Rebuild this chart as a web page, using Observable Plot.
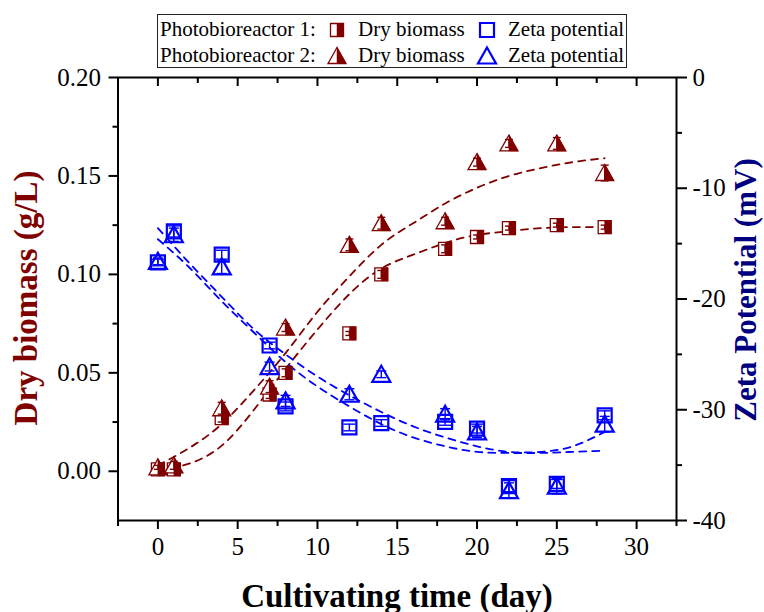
<!DOCTYPE html>
<html>
<head>
<meta charset="utf-8">
<script src="https://cdn.jsdelivr.net/npm/d3@7"></script>
<script src="https://cdn.jsdelivr.net/npm/@observablehq/plot@0.6"></script>
<style>
html, body { margin: 0; padding: 0; background: #fff; }
#wrap { position: relative; width: 764px; height: 612px; overflow: hidden; font-family: "Liberation Serif", "Times New Roman", serif; }
#chart { position: absolute; left: 0; top: 0; }
#chart svg text { font-family: "Liberation Serif", "Times New Roman", serif !important; }
.lbl { position: absolute; white-space: nowrap; line-height: 1; }
.title { font-weight: bold; transform: translate(-50%, -50%); }
.rot { transform: translate(-50%, -50%) rotate(-90deg); }
#legend { position: absolute; left: 157px; top: 14px; width: 468px; height: 52px; border: 1px solid #222; }
.leg { font-size: 21px; color: #000; }
.icon { position: absolute; overflow: visible; }
</style>
</head>
<body>
<div id="wrap">
  <div id="chart"></div>
  <div id="legend"></div>
</div>
<script>
// ---------- data ----------
const days = [0, 1, 4, 7, 8, 12, 14, 18, 20, 22, 25, 28];
const biomassPBR1 = [0.001, 0.001, 0.027, 0.039, 0.050, 0.070, 0.100, 0.113, 0.119, 0.1235, 0.125, 0.124];
const biomassPBR2 = [0.002, 0.003, 0.032, 0.043, 0.073, 0.115, 0.126, 0.127, 0.157, 0.1665, 0.1665, 0.1515];
const biomassErrPBR1 = [0.001, 0.001, 0.002, 0.002, 0.002, 0.001, 0.002, 0.002, 0.001, 0.001, 0.001, 0.001];
const biomassErrPBR2 = [0.001, 0.002, 0.003, 0.003, 0.002, 0.003, 0.003, 0.002, 0.002, 0.002, 0.003, 0.004];
const zetaPBR1 = [-16.7, -13.9, -16.0, -24.2, -29.7, -31.6, -31.2, -31.1, -31.7, -36.9, -36.7, -30.5];
const zetaPBR2 = [-16.6, -14.2, -17.1, -26.1, -29.2, -28.6, -26.8, -30.4, -32.0, -37.3, -36.9, -31.3];
const zetaErrPBR1 = [0.3, 0.5, 0.4, 0.3, 0.4, 0.3, 0.3, 0.3, 0.4, 0.5, 0.4, 0.4];
const zetaErrPBR2 = [0.3, 0.6, 0.6, 0.4, 0.5, 0.5, 0.3, 0.5, 0.5, 0.7, 0.7, 0.7];

const fitDays = [0, 2, 4, 6, 8, 10, 12, 14, 16, 18, 20, 22, 24, 26, 28];
const fitBiomass1 = [0.000, 0.004, 0.013, 0.031, 0.052, 0.072, 0.090, 0.103, 0.110, 0.116, 0.120, 0.122, 0.1235, 0.124, 0.124];
const fitBiomass2 = [0.003, 0.012, 0.024, 0.041, 0.060, 0.081, 0.099, 0.115, 0.126, 0.136, 0.144, 0.150, 0.154, 0.157, 0.159];
const fitZeta1 = [-13.6, -16.8, -19.8, -22.7, -25.0, -27.0, -28.7, -30.2, -31.5, -32.5, -33.3, -33.8, -33.8, -33.3, -32.0];
const fitZeta2 = [-14.6, -17.2, -20.2, -23.0, -25.7, -27.9, -29.7, -31.3, -32.5, -33.3, -33.8, -33.9, -33.9, -33.8, -33.7];

const biomassTicks = [0, 0.05, 0.10, 0.15, 0.20];
const biomassMinor = [0.025, 0.075, 0.125, 0.175];
const zetaTicks = [-40, -30, -20, -10, 0];
const zetaMinor = [-35, -25, -15, -5];
const dayTicks = [0, 5, 10, 15, 20, 25, 30];
const dayMinor = [-2.5, 2.5, 7.5, 12.5, 17.5, 22.5, 27.5, 32.5];

const legendRows = ["Photobioreactor 1:", "Photobioreactor 2:"];
const legendSeries = ["Dry biomass", "Zeta potential"];

// ---------- setup ----------
const DR = "#800000", BL = "#0000ff";
const FONT = "Liberation Serif, Times New Roman, serif";
const Y0 = -0.025, Y1 = 0.2;
const zy = z => Y1 + (z / 40) * (Y1 - Y0);      // zeta (mV) -> left-axis units
const yz = y => (y - Y1) / (Y1 - Y0) * 40;      // inverse

function sym(points) {
  return { draw(ctx, size) {
    const s = Math.sqrt(size / Math.PI) / 7;
    points.forEach(([x, y], i) => i ? ctx.lineTo(x * s, y * s) : ctx.moveTo(x * s, y * s));
    ctx.closePath();
  }};
}
function capOf(w) {
  return { draw(ctx, size) {
    const s = Math.sqrt(size / Math.PI) / 7;
    ctx.moveTo(-w * s, 0); ctx.lineTo(w * s, 0);
  }};
}
const sqR = [[-6.5,-6.5],[6.5,-6.5],[6.5,6.5],[-6.5,6.5]];
const halfSqR = [[0,-6.5],[6.5,-6.5],[6.5,6.5],[0,6.5]];
const sqB = [[-7,-7],[7,-7],[7,7],[-7,7]];
const tri = [[0,-8.5],[9,7.5],[-9,7.5]];
const halfTri = [[0,-8.5],[9,7.5],[0,7.5]];

const rows = (vals, errs, tf = v => v) => days.map((d, i) => ({day: d, v: tf(vals[i]), lo: tf(vals[i] - errs[i]), hi: tf(vals[i] + errs[i])}));
const b1 = rows(biomassPBR1, biomassErrPBR1);
const b2 = rows(biomassPBR2, biomassErrPBR2);
const z1 = rows(zetaPBR1, zetaErrPBR1, zy);
const z2 = rows(zetaPBR2, zetaErrPBR2, zy);
const caps = r => r.flatMap(d => [{day: d.day, v: d.lo}, {day: d.day, v: d.hi}]);

const fit = (vals, tf = v => v) => fitDays.map((d, i) => ({day: d, v: tf(vals[i])}));

function series(data, color, outline, half, fillOutline, sw, capW) {
  const m = [
    Plot.dot(data, {x: "day", y: "v", r: 7, symbol: sym(outline), fill: fillOutline, stroke: color, strokeWidth: sw})
  ];
  if (half) m.push(Plot.dot(data, {x: "day", y: "v", r: 7, symbol: sym(half), fill: color, stroke: color, strokeWidth: 0.5}));
  m.push(Plot.ruleX(data, {x: "day", y1: "lo", y2: "hi", stroke: color, strokeWidth: 1.4}));
  m.push(Plot.dot(caps(data), {x: "day", y: "v", r: 7, symbol: capOf(capW), stroke: color, strokeWidth: 1.4, fill: "none"}));
  return m;
}

const dash = "7,6";
const chart = Plot.plot({
  width: 764, height: 612,
  marginLeft: 117.5, marginRight: 88, marginTop: 77, marginBottom: 92,
  style: {fontFamily: FONT, fontSize: "25px", color: "#000", background: "transparent"},
  x: {domain: [-2.5, 32.5], label: null},
  y: {domain: [Y0, Y1], label: null},
  marks: [
    // fitted curves
    Plot.line(fit(fitBiomass1), {x: "day", y: "v", stroke: DR, strokeWidth: 1.8, strokeDasharray: dash, curve: "natural"}),
    Plot.line(fit(fitBiomass2), {x: "day", y: "v", stroke: DR, strokeWidth: 1.8, strokeDasharray: dash, curve: "natural"}),
    Plot.line(fit(fitZeta1, zy), {x: "day", y: "v", stroke: BL, strokeWidth: 1.8, strokeDasharray: dash, curve: "natural"}),
    Plot.line(fit(fitZeta2, zy), {x: "day", y: "v", stroke: BL, strokeWidth: 1.8, strokeDasharray: dash, curve: "natural"}),
    // data
    ...series(b1, DR, sqR, halfSqR, "white", 1.3, 4),
    ...series(b2, DR, tri, halfTri, "white", 1.3, 4),
    ...series(z1, BL, sqB, null, "none", 2.2, 6),
    ...series(z2, BL, tri, null, "none", 2.2, 5),
    // axes
    Plot.axisY(biomassTicks, {anchor: "left", tickSize: 9, tickPadding: 8, strokeWidth: 2, tickFormat: d3.format(".2f"), fontSize: 25, fontFamily: FONT, label: null}),
    Plot.axisY(biomassMinor, {anchor: "left", tickSize: 5, strokeWidth: 2, tickFormat: () => "", label: null}),
    Plot.axisY(zetaTicks.map(zy), {anchor: "right", tickSize: 10, tickPadding: 6, strokeWidth: 2, tickFormat: d => String(Math.round(yz(d)) || 0), fontSize: 25, fontFamily: FONT, label: null}),
    Plot.axisY(zetaMinor.map(zy), {anchor: "right", tickSize: 5, strokeWidth: 2, tickFormat: () => "", label: null}),
    Plot.axisX(dayTicks, {anchor: "bottom", tickSize: 9, tickPadding: 8, strokeWidth: 2, fontSize: 25, fontFamily: FONT, label: null}),
    Plot.axisX(dayMinor, {anchor: "bottom", tickSize: 6, strokeWidth: 2, tickFormat: () => "", label: null}),
    Plot.axisX(dayTicks, {anchor: "top", tickSize: -8, strokeWidth: 2, tickFormat: () => "", label: null}),
    Plot.axisX(dayMinor.filter(d => d > -2.5 && d < 32.5), {anchor: "top", tickSize: -5, strokeWidth: 2, tickFormat: () => "", label: null}),
    Plot.frame({stroke: "#000", strokeWidth: 2})
  ]
});
document.getElementById("chart").appendChild(chart);

// ---------- titles ----------
const wrap = document.getElementById("wrap");
function label(text, x, y, cls, css) {
  const s = document.createElement("span");
  s.className = "lbl " + cls;
  s.textContent = text;
  s.style.left = x + "px"; s.style.top = y + "px";
  Object.assign(s.style, css);
  wrap.appendChild(s);
  return s;
}
label("Dry biomass (g/L)", 26, 298, "title rot", {fontSize: "33px", color: DR});
label("Zeta Potential (mV)", 745, 290, "title rot", {fontSize: "31px", color: "#000080"});
label("Cultivating time (day)", 397, 596, "title", {fontSize: "33px", color: "#000"});

// ---------- legend ----------
function icon(cx, cy, shapes) {
  const ns = "http://www.w3.org/2000/svg";
  const svg = document.createElementNS(ns, "svg");
  svg.setAttribute("class", "icon");
  svg.setAttribute("width", 24); svg.setAttribute("height", 24);
  svg.setAttribute("viewBox", "-12 -12 24 24");
  svg.style.left = (cx - 12) + "px"; svg.style.top = (cy - 12) + "px";
  for (const [pts, fill, stroke, sw] of shapes) {
    const p = document.createElementNS(ns, "path");
    p.setAttribute("d", "M" + pts.map(q => q.join(",")).join("L") + "Z");
    p.setAttribute("fill", fill); p.setAttribute("stroke", stroke); p.setAttribute("stroke-width", sw);
    svg.appendChild(p);
  }
  wrap.appendChild(svg);
}
const rowBase = [37, 63];
legendRows.forEach((t, i) => {
  const top = rowBase[i] - 17.6;
  label(t, 160, top, "leg", {});
  label(legendSeries[0], 358, top, "leg", {});
  label(legendSeries[1], 508, top, "leg", {});
  const cy = rowBase[i] - 7;
  if (i === 0) {
    icon(337, cy, [[sqR, "white", DR, 1.3], [halfSqR, DR, DR, 0.5]]);
    icon(487, cy, [[sqB, "none", BL, 2.2]]);
  } else {
    icon(337, cy, [[tri, "white", DR, 1.3], [halfTri, DR, DR, 0.5]]);
    icon(487, cy, [[tri, "none", BL, 2.2]]);
  }
});
</script>
</body>
</html>
